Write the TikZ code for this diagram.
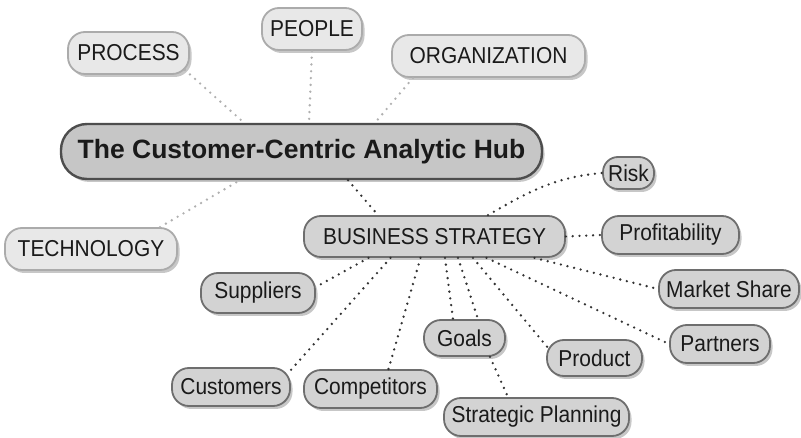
\documentclass[tikz,border=0pt]{standalone}
\usepackage{fontspec}
\setmainfont{Liberation Sans}
\newfontfamily\leaffont[FakeStretch=0.91]{Liberation Sans}
\usetikzlibrary{shadows,calc}
\definecolor{txt}{HTML}{1A1A1A}
\definecolor{topfill}{HTML}{E8E8E8}
\definecolor{topdraw}{HTML}{ABABAB}
\definecolor{hubfill}{HTML}{C6C6C6}
\definecolor{hubdraw}{HTML}{4D4D4D}
\definecolor{leaffill}{HTML}{D3D3D3}
\definecolor{leafdraw}{HTML}{6E6E6E}
\definecolor{lightdot}{HTML}{B0B0B0}
\definecolor{darkdot}{HTML}{333333}
\begin{document}
\begin{tikzpicture}[x=1pt,y=-1pt,
  base/.style={rectangle, rounded corners=17pt, line width=1.8pt, text=txt, inner sep=0pt,
    drop shadow={shadow xshift=2.5pt, shadow yshift=-3pt, fill=black, opacity=0.22}},
  topnode/.style={base, fill=topfill, draw=topdraw, font=\leaffont\fontsize{23}{27}\selectfont, minimum height=42pt},
  leaf/.style={base, fill=leaffill, draw=leafdraw, font=\leaffont\fontsize{23}{27}\selectfont, minimum height=38pt},
  hubnode/.style={base, rounded corners=26pt, fill=hubfill, draw=hubdraw, line width=2.4pt,
    font=\bfseries\fontsize{26.5}{30}\selectfont, minimum height=55pt},
  lightdots/.style={draw=lightdot, line width=2.6pt, line cap=round, dash pattern=on 0pt off 6.8pt},
  darkdots/.style={draw=darkdot, line width=2.6pt, line cap=round, dash pattern=on 0pt off 6.8pt},
]
\useasboundingbox (0,0) rectangle (801,438);
\fill[white] (0,0) rectangle (801,438);

% nodes
\node[topnode, minimum width=121pt] (process) at (128.5,53) {PROCESS};
\node[topnode, minimum width=100pt] (people) at (312,29) {PEOPLE};
\node[topnode, minimum width=193pt] (org) at (488.5,56) {ORGANIZATION};
\node[topnode, minimum width=172pt] (tech) at (91,249) {TECHNOLOGY};
\node[hubnode, minimum width=481pt] (hub) at (301.5,151.5) {The Customer-Centric Analytic Hub};
\node[leaf, minimum width=261pt, minimum height=41pt] (bs) at (434.5,236.5) {BUSINESS STRATEGY};
\node[leaf, minimum width=51pt, minimum height=32pt, rounded corners=15pt] (risk) at (628.5,173) {Risk};
\node[leaf, minimum width=137pt] (prof) at (670.5,235) {Profitability};
\node[leaf, minimum width=140pt] (ms) at (729,289) {Market Share};
\node[leaf, minimum width=100pt] (part) at (720,344) {Partners};
\node[leaf, minimum width=95pt, minimum height=36pt] (prod) at (594.5,358) {Product};
\node[leaf, minimum width=81pt, minimum height=36pt] (goals) at (464.5,338) {Goals};
\node[leaf, minimum width=185pt] (sp) at (536.5,417) {Strategic Planning};
\node[leaf, minimum width=118pt] (cust) at (231,387) {Customers};
\node[leaf, minimum width=133pt] (comp) at (370.5,389) {Competitors};
\node[leaf, minimum width=114pt, minimum height=40pt] (sup) at (258,293) {Suppliers};

% light connectors
\draw[lightdots] ([xshift=-5pt,yshift=5pt]process.south east) -- ([xshift=-57.5pt]hub.north);
\draw[lightdots] (people.south) -- ([xshift=7.5pt]hub.north);
\draw[lightdots] ([xshift=-75.5pt]org.south) -- ([xshift=73.5pt]hub.north);
\draw[lightdots] ([xshift=69pt]tech.north) -- ([xshift=-61.5pt]hub.south);

% dark connectors
\draw[darkdots] ([xshift=46.5pt]hub.south) -- ([xshift=-56.5pt]bs.north);
\draw[darkdots] ([xshift=53.5pt]bs.north) to[out=30,in=185] (risk.west);
\draw[darkdots] (bs.east) -- (prof.west);
\draw[darkdots] ([xshift=100pt]bs.south) -- (ms.west);
\draw[darkdots] ([xshift=52pt]bs.south) -- (part.west);
\draw[darkdots] ([xshift=38.5pt]bs.south) -- ([xshift=2pt,yshift=10pt]prod.west);
\draw[darkdots] ([xshift=23.5pt]bs.south) -- ([xshift=13.5pt]goals.north);
\draw[darkdots] ([xshift=10.5pt]bs.south) -- ([xshift=-11.5pt]goals.north);
\draw[darkdots] ([xshift=-14pt]bs.south) -- ([xshift=18pt]comp.north);
\draw[darkdots] ([xshift=-44pt]bs.south) -- ([xshift=-1pt,yshift=-4pt]cust.north east);
\draw[darkdots] ([xshift=-66pt]bs.south) -- ([yshift=6pt]sup.east);
\draw[darkdots] ([xshift=25.5pt]goals.south) -- ([xshift=-28.5pt]sp.north);
\end{tikzpicture}
\end{document}
